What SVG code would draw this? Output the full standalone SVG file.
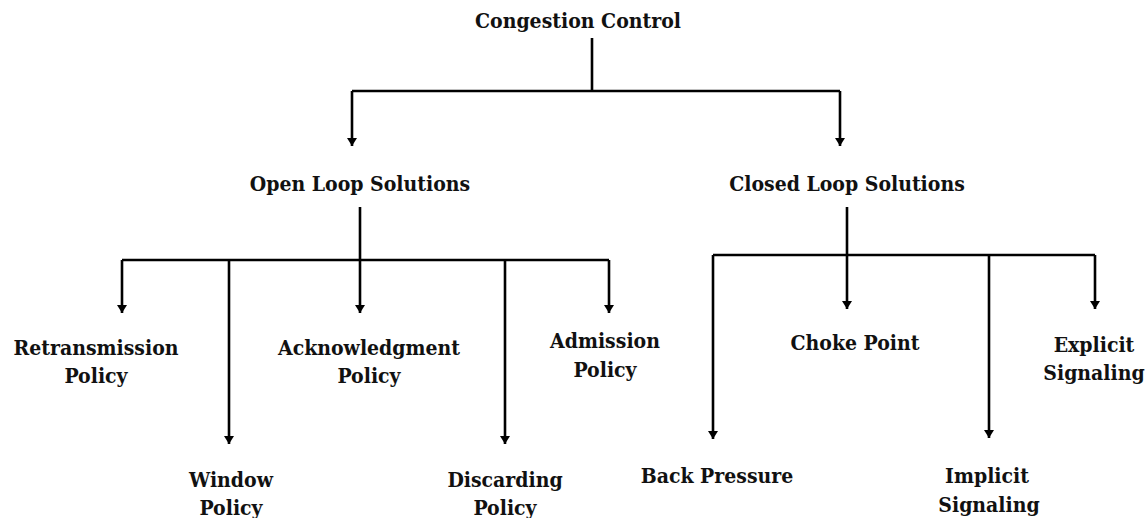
<svg xmlns="http://www.w3.org/2000/svg" width="1148" height="518" viewBox="0 0 1148 518">
<defs>
<marker id="ah" markerUnits="userSpaceOnUse" markerWidth="10" markerHeight="10" viewBox="0 0 10 10" refX="9" refY="5" orient="auto">
<path d="M1,0 L9,5 L1,10 Z" fill="#000"/>
</marker>
<style>
text{font-family:"DejaVu Serif Condensed","DejaVu Serif","Liberation Serif",serif;font-weight:bold;font-size:21px;fill:#111;text-anchor:middle}
.c path{fill:none;stroke:#000;stroke-width:2.6}
.a{marker-end:url(#ah)}
</style>
</defs>
<rect width="1148" height="518" fill="#fff"/>
<g class="c" id="connectors">
<path d="M592,38 V91 M352,91 H840"/>
<path class="a" d="M352,91 V146"/>
<path class="a" d="M840,91 V146"/>
<path d="M360,207 V260 M122,260 H609"/>
<path class="a" d="M122,260 V313"/>
<path class="a" d="M229,260 V444"/>
<path class="a" d="M360,260 V313"/>
<path class="a" d="M505,260 V444"/>
<path class="a" d="M609,260 V313"/>
<path d="M847,207 V255 M713,255 H1095"/>
<path class="a" d="M713,255 V439"/>
<path class="a" d="M847,255 V309"/>
<path class="a" d="M989,255 V438"/>
<path class="a" d="M1095,255 V309"/>
</g>
<g id="congestion-control"><text x="578" y="28">Congestion Control</text></g>
<g id="open-loop"><text x="360" y="191">Open Loop Solutions</text></g>
<g id="closed-loop"><text x="847" y="191">Closed Loop Solutions</text></g>
<g id="retransmission"><text x="96" y="355">Retransmission</text><text x="96" y="383">Policy</text></g>
<g id="window"><text x="231" y="487">Window</text><text x="231" y="515">Policy</text></g>
<g id="acknowledgment"><text x="369" y="355">Acknowledgment</text><text x="369" y="383">Policy</text></g>
<g id="discarding"><text x="505" y="487">Discarding</text><text x="505" y="515">Policy</text></g>
<g id="admission"><text x="605" y="348">Admission</text><text x="605" y="377">Policy</text></g>
<g id="back-pressure"><text x="717" y="483">Back Pressure</text></g>
<g id="choke-point"><text x="855" y="350">Choke Point</text></g>
<g id="implicit"><text x="987" y="483">Implicit</text><text x="989" y="512">Signaling</text></g>
<g id="explicit"><text x="1094" y="352">Explicit</text><text x="1094" y="380">Signaling</text></g>
</svg>
